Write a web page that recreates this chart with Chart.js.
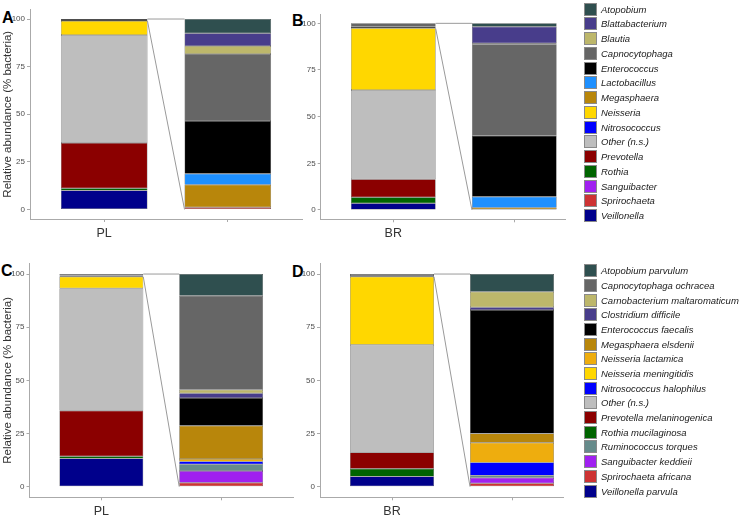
<!DOCTYPE html>
<html><head><meta charset="utf-8">
<script src="https://cdn.jsdelivr.net/npm/chart.js@4.4.1/dist/chart.umd.min.js"></script>
<style>
html,body{margin:0;padding:0;background:#fff;}
body{width:740px;height:517px;position:relative;overflow:hidden;font-family:"Liberation Sans",Arial,sans-serif;}
canvas{position:absolute;}
.plab{position:absolute;font-weight:bold;font-size:16px;line-height:16px;color:#000;}
.li{position:absolute;left:584px;height:13px;white-space:nowrap;}
.sw{position:absolute;left:0;top:0;width:11px;height:11px;border:1px solid #8a8a8a;}
.lt{position:absolute;left:17px;top:0;font-style:italic;font-size:9.5px;line-height:13px;color:#1a1a1a;}
</style></head>
<body>
<div class="plab" style="left:2px;top:9.5px">A</div>
<div class="plab" style="left:292px;top:12.5px">B</div>
<div class="plab" style="left:1px;top:263px">C</div>
<div class="plab" style="left:292px;top:263.5px">D</div>
<script>
// ---------------- DATA ----------------
const yTicks = [0, 25, 50, 75, 100];
const yTitle = "Relative abundance (% bacteria)";

// Genus level (panels A, B) - legend order, top of stack first
const taxaAB = ["Atopobium","Blattabacterium","Blautia","Capnocytophaga","Enterococcus","Lactobacillus","Megasphaera","Neisseria","Nitrosococcus","Other (n.s.)","Prevotella","Rothia","Sanguibacter","Sprirochaeta","Veillonella"];
const colorsAB = ["#2F4F4F","#483D8B","#BDB76B","#666666","#000000","#1E90FF","#B8860B","#FFD700","#0000FF","#BEBEBE","#8B0000","#006400","#A020F0","#CD3333","#00008B"];
const labelsA = ["PL", ""];
const mainA = [0, 0, 0, 0, 1.0, 0, 0, 7.4, 0, 56.7, 23.7, 1.2, 0, 0, 10.0];
const subA  = [7.5, 6.6, 4.3, 35.1, 27.7, 5.8, 11.8, 0, 0, 0, 0, 0, 0, 1.2, 0];
const minorA = 99.0;
const labelsB = ["BR", ""];
const mainB = [0, 0, 0, 1.8, 0.9, 0, 0, 33.0, 0, 47.9, 9.6, 3.2, 0, 0, 3.6];
const subB  = [1.8, 8.9, 0.5, 49.0, 32.7, 5.9, 1.2, 0, 0, 0, 0, 0, 0, 0, 0];
const minorB = 97.3;

// Species level (panels C, D)
const taxaCD = ["Atopobium parvulum","Capnocytophaga ochracea","Carnobacterium maltaromaticum","Clostridium difficile","Enterococcus faecalis","Megasphaera elsdenii","Neisseria lactamica","Neisseria meningitidis","Nitrosococcus halophilus","Other (n.s.)","Prevotella melaninogenica","Rothia mucilaginosa","Ruminococcus torques","Sanguibacter keddieii","Sprirochaeta africana","Veillonella parvula"];
const colorsCD = ["#2F4F4F","#666666","#BDB76B","#483D8B","#000000","#B8860B","#EEAD0E","#FFD700","#0000FF","#BEBEBE","#8B0000","#006400","#668B8B","#A020F0","#CD3333","#00008B"];
const labelsC = ["PL", ""];
const mainC = [0, 0.7, 0, 0, 0.6, 0, 0, 5.4, 0, 57.6, 21.4, 1.1, 0, 0, 0, 13.2];
const subC  = [10.2, 44.2, 1.7, 2.2, 13.0, 15.7, 1.2, 0, 1.3, 0, 0, 0, 3.1, 5.5, 1.9, 0];
const minorC = 98.7;
const labelsD = ["BR", ""];
const mainD = [0, 0.95, 0, 0, 0.35, 0, 0, 32.0, 0, 50.6, 7.7, 3.6, 0, 0, 0, 4.8];
const subD  = [8.3, 0, 7.3, 1.3, 58.1, 4.4, 9.2, 0, 6.2, 0, 0, 0, 1.0, 2.6, 1.6, 0];
const minorD = 98.75;

// ---------------- RENDER ----------------
const FONT = "'Liberation Sans', Arial, sans-serif";
const BAR_FRAC = 0.7;

const connector = {
  id: 'connector',
  afterDatasetsDraw(chart, args, opts) {
    const xs = chart.scales.x, ys = chart.scales.y;
    const x1 = xs.getPixelForValue(1), x2 = xs.getPixelForValue(2);
    const hw = (x2 - x1) * BAR_FRAC / 2;
    const ctx = chart.ctx;
    ctx.save();
    ctx.strokeStyle = '#9a9a9a';
    ctx.lineWidth = 1;
    ctx.beginPath();
    ctx.moveTo(x1 + hw, ys.getPixelForValue(100));
    ctx.lineTo(x2 - hw, ys.getPixelForValue(100));
    ctx.moveTo(x1 + hw, ys.getPixelForValue(opts.minor));
    ctx.lineTo(x2 - hw, ys.getPixelForValue(0));
    ctx.stroke();
    ctx.restore();
  }
};

function panel(cv, area, xmax, labels, taxa, colors, main, sub, minor, title) {
  const [cx, cy, w, h] = cv;
  const [l, t, r, b] = area;
  const c = document.createElement('canvas');
  c.width = w; c.height = h;
  c.style.left = cx + 'px'; c.style.top = cy + 'px';
  c.style.width = w + 'px'; c.style.height = h + 'px';
  document.body.appendChild(c);
  const datasets = [];
  for (let i = taxa.length - 1; i >= 0; i--) {
    datasets.push({
      label: taxa[i],
      data: [{x: 1, y: main[i] || null}, {x: 2, y: sub[i] || null}],
      backgroundColor: colors[i],
      borderColor: '#3c3c3c',
      borderWidth: 0.5,
      borderSkipped: false,
      categoryPercentage: BAR_FRAC,
      barPercentage: 1.0
    });
  }
  const gridOpts = {display: true, drawOnChartArea: false, drawTicks: true, tickLength: 3, color: '#aaaaaa', offset: false};
  new Chart(c, {
    type: 'bar',
    data: {datasets},
    options: {
      responsive: false, animation: false, devicePixelRatio: 1,
      layout: {padding: {left: 0, top: t - cy, right: cx + w - r, bottom: 0}},
      plugins: {legend: {display: false}, tooltip: {enabled: false}, connector: {minor}},
      scales: {
        x: {
          type: 'linear', min: 0.4, max: xmax, stacked: true, offset: false,
          afterBuildTicks: s => { s.ticks = [{value: 1}, {value: 2}]; },
          afterFit: s => { s.height = cy + h - b; },
          grid: gridOpts,
          border: {display: true, color: '#aaaaaa', width: 1},
          ticks: {callback: (v, i) => labels[i], font: {size: 12.5, family: FONT}, color: '#333333', padding: 4, maxRotation: 0, autoSkip: false}
        },
        y: {
          type: 'linear', min: -5, max: 105, stacked: true,
          afterBuildTicks: s => { s.ticks = yTicks.map(v => ({value: v})); },
          afterFit: s => { s.width = l - cx; },
          grid: gridOpts,
          border: {display: true, color: '#aaaaaa', width: 1},
          ticks: {font: {size: 8, family: FONT}, color: '#4d4d4d', padding: 2},
          title: {display: !!title, text: title, font: {size: 11.5, family: FONT}, color: '#333333', padding: {top: 1, bottom: 0}}
        }
      }
    },
    plugins: [connector]
  });
}

panel([0, 0, 310, 245], [30, 9.5, 302, 219], 2.6, labelsA, taxaAB, colorsAB, mainA, subA, minorA, yTitle);
panel([290, 0, 276, 245], [320.7, 14, 566, 219.3], 0.4 + (566 - 320.7) / 121, labelsB, taxaAB, colorsAB, mainB, subB, minorB, null);
panel([0, 255, 300, 262], [29.5, 263.4, 293, 497.3], 2.6, labelsC, taxaCD, colorsCD, mainC, subC, minorC, yTitle);
panel([290, 255, 274, 262], [320, 263.4, 564, 497.3], 0.4 + (564 - 320) / 120, labelsD, taxaCD, colorsCD, mainD, subD, minorD, null);

function legend(taxa, colors, y0, pitch) {
  taxa.forEach((name, i) => {
    const d = document.createElement('div');
    d.className = 'li';
    d.style.top = (y0 + i * pitch - 6.5) + 'px';
    const s = document.createElement('div');
    s.className = 'sw'; s.style.background = colors[i];
    const tx = document.createElement('div');
    tx.className = 'lt'; tx.textContent = name;
    d.appendChild(s); d.appendChild(tx);
    document.body.appendChild(d);
  });
}
legend(taxaAB, colorsAB, 9, 14.76);
legend(taxaCD, colorsCD, 270.7, 14.69);
</script>
</body></html>
